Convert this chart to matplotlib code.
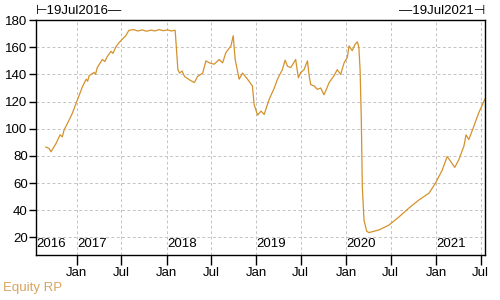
import matplotlib
matplotlib.use("Agg")
import matplotlib.pyplot as plt
import matplotlib.dates as mdates
import matplotlib.transforms as mtransforms
import numpy as np
import pandas as pd

plt.rcParams['font.family'] = ['Liberation Sans', 'DejaVu Sans']

# Equity risk premium series
dates = [
    "2016-08-28", "2016-09-10", "2016-09-18", "2016-10-08", "2016-10-25", "2016-11-03",
    "2016-11-10", "2016-11-24", "2016-12-05", "2016-12-14", "2017-01-04", "2017-01-24",
    "2017-02-08", "2017-02-14", "2017-02-20", "2017-03-12", "2017-03-18", "2017-03-25",
    "2017-04-15", "2017-04-25", "2017-05-06", "2017-05-20", "2017-05-28", "2017-06-08",
    "2017-06-20", "2017-07-05", "2017-07-19", "2017-08-01", "2017-08-20", "2017-09-05",
    "2017-09-25", "2017-10-10", "2017-10-30", "2017-11-15", "2017-12-01", "2017-12-20",
    "2018-01-05", "2018-01-20", "2018-02-05", "2018-02-16", "2018-02-23", "2018-03-05",
    "2018-03-15", "2018-04-04", "2018-04-24", "2018-05-07", "2018-05-28", "2018-06-10",
    "2018-06-24", "2018-07-14", "2018-08-03", "2018-08-17", "2018-08-30", "2018-09-20",
    "2018-09-29", "2018-10-07", "2018-10-23", "2018-11-06", "2018-11-26", "2018-12-16",
    "2018-12-23", "2018-12-30", "2019-01-06", "2019-01-20", "2019-02-02", "2019-02-22",
    "2019-03-15", "2019-03-28", "2019-04-17", "2019-04-28", "2019-05-08", "2019-05-21",
    "2019-06-10", "2019-06-21", "2019-07-01", "2019-07-14", "2019-07-28", "2019-08-04",
    "2019-08-10", "2019-08-24", "2019-09-06", "2019-09-20", "2019-10-03", "2019-10-13",
    "2019-10-24", "2019-11-13", "2019-11-26", "2019-12-10", "2019-12-24", "2020-01-06",
    "2020-01-13", "2020-01-26", "2020-02-06", "2020-02-16", "2020-02-22", "2020-02-27",
    "2020-03-03", "2020-03-07", "2020-03-14", "2020-03-25", "2020-04-03", "2020-05-14",
    "2020-06-23", "2020-08-03", "2020-09-12", "2020-10-23", "2020-12-03", "2020-12-30",
    "2021-01-26", "2021-02-15", "2021-03-01", "2021-03-18", "2021-04-03", "2021-04-24",
    "2021-05-03", "2021-05-14", "2021-06-03", "2021-06-23", "2021-07-19",
]
values = [
    86.5, 85.5, 83.0, 89.0, 95.5, 94.0,
    99.0, 104.0, 108.0, 111.5, 121.5, 131.0,
    136.5, 135.0, 139.0, 141.5, 140.0, 145.0,
    151.0, 149.5, 153.5, 157.0, 155.5, 160.0,
    163.0, 166.0, 168.5, 172.5, 173.0, 172.0,
    172.8, 171.8, 172.6, 172.0, 173.0, 172.2,
    172.8, 172.0, 172.5, 143.5, 141.0, 142.5,
    138.5, 136.0, 134.0, 138.5, 141.0, 150.0,
    148.5, 147.5, 151.0, 148.5, 156.0, 161.0,
    168.5, 151.0, 136.5, 141.0, 136.5, 131.5,
    118.0, 114.0, 110.0, 113.0, 110.5, 121.5,
    130.0, 136.5, 143.5, 150.5, 146.0, 145.0,
    151.0, 137.5, 141.5, 143.5, 150.0, 139.0,
    132.5, 131.5, 129.0, 130.0, 125.0, 129.0,
    134.0, 139.0, 143.5, 140.0, 148.5, 152.5,
    161.0, 157.5, 162.0, 164.0, 160.0, 143.5,
    106.5, 57.5, 32.5, 24.5, 23.5, 25.5,
    29.0, 35.0, 41.5, 47.5, 52.5, 60.0,
    69.5, 79.5, 76.0, 71.5, 77.0, 87.0,
    95.5, 92.0, 101.5, 111.5, 122.0,
]
years = [2016, 2017, 2018, 2019, 2020, 2021]
start_label = "\u22a219Jul2016\u2014"
end_label = "\u201419Jul2021\u22a3"
series_name = "Equity RP"

dt = pd.to_datetime(dates)
line_color = "#D4922C"

fig = plt.figure(figsize=(5, 3), dpi=100)
ax = fig.add_axes([0.072, 0.15, 0.898, 0.783])

ax.plot(dt, values, color=line_color, lw=0.9)

ax.set_xlim(pd.Timestamp("2016-07-19"), pd.Timestamp("2021-07-19"))
ax.set_ylim(7, 180)
ax.set_yticks(np.arange(20, 181, 20))

ax.xaxis.set_major_locator(mdates.MonthLocator(bymonth=[1, 7]))
ax.xaxis.set_major_formatter(mdates.DateFormatter("%b"))

ax.grid(True, color="#c4c4c4", lw=0.7, linestyle=(0, (3, 2.5)))
ax.tick_params(axis="both", direction="out", labelsize=9.5, colors="black")
ax.tick_params(axis="x", length=7, width=1, pad=2)
ax.tick_params(axis="y", length=5, width=1, pad=1)
for s in ax.spines.values():
    s.set_color("black")
    s.set_linewidth(1)

# year labels inside the bottom of the axes
trans = mtransforms.blended_transform_factory(ax.transData, ax.transAxes)
for i, y in enumerate(years):
    x0 = pd.Timestamp("2016-07-20") if i == 0 else pd.Timestamp(f"{y}-01-03")
    ax.text(x0, 0.045, str(y), transform=trans, ha="left", va="center", fontsize=9.5)

fig.text(0.072, 0.965, start_label, ha="left", va="center", fontsize=9.5)
fig.text(0.97, 0.965, end_label, ha="right", va="center", fontsize=9.5)
fig.text(0.006, 0.04, series_name, ha="left", va="center", fontsize=9.5, color="#D9A35E")

fig.savefig("out.png", dpi=100)
